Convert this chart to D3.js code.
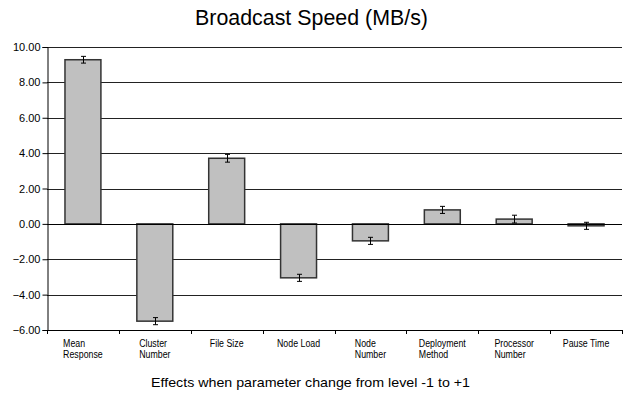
<!DOCTYPE html>
<html>
<head>
<meta charset="utf-8">
<script src="https://cdn.jsdelivr.net/npm/d3@7"></script>
<style>
  body { margin: 0; background: #fff; }
  text { font-family: "Liberation Sans", Arial, Helvetica, sans-serif; fill: #000; }
</style>
</head>
<body>
<div id="chart"></div>
<script>
// chart data
const categories = [
  ["Mean", "Response"],
  ["Cluster", "Number"],
  ["File Size"],
  ["Node Load"],
  ["Node", "Number"],
  ["Deployment", "Method"],
  ["Processor", "Number"],
  ["Pause Time"]
];
const effects = [9.28, -5.5, 3.71, -3.05, -0.96, 0.79, 0.27, -0.11];
const errors = [0.19, 0.2, 0.22, 0.2, 0.2, 0.2, 0.22, 0.2];
const yTicks = [-6, -4, -2, 0, 2, 4, 6, 8, 10];
const title = "Broadcast Speed (MB/s)";
const xTitle = "Effects when parameter change from level -1 to +1";

const W = 633, H = 394;
const margin = { top: 47, right: 11, bottom: 64, left: 47 };
const width = W - margin.left - margin.right;
const height = H - margin.top - margin.bottom;

const svg = d3.select("#chart")
  .append("svg")
  .attr("width", W)
  .attr("height", H);

// title
svg.append("text")
  .attr("x", 311.5)
  .attr("y", 25)
  .attr("text-anchor", "middle")
  .attr("font-size", 22.5)
  .attr("textLength", 233)
  .attr("lengthAdjust", "spacingAndGlyphs")
  .text(title);

const g = svg.append("g")
  .attr("transform", `translate(${margin.left},${margin.top})`);

const idx = d3.range(categories.length);

// bars sit in the middle half of each slot
const xScale = d3.scaleBand()
  .domain(idx)
  .range([0, width])
  .paddingInner(0.5)
  .paddingOuter(0.25);

const yScale = d3.scaleLinear()
  .domain([-6, 10])
  .range([height, 0]);

// gridlines
g.append("g")
  .selectAll("line")
  .data(yTicks.filter(d => d !== -6))
  .join("line")
  .attr("x1", 0)
  .attr("x2", width)
  .attr("y1", d => Math.round(yScale(d)) + 0.5)
  .attr("y2", d => Math.round(yScale(d)) + 0.5)
  .attr("stroke", "#222")
  .attr("stroke-width", 1);

// y axis
const yAxis = d3.axisLeft(yScale)
  .tickValues(yTicks)
  .tickFormat(d3.format(".2f"))
  .tickSize(5)
  .tickPadding(2);

const yG = g.append("g")
  .attr("transform", "translate(0.5,0)")
  .call(yAxis);
yG.select(".domain").attr("stroke", "#000");
yG.selectAll(".tick line").attr("stroke", "#000");
yG.selectAll(".tick text")
  .attr("font-size", 11)
  .attr("font-family", "Liberation Sans, Arial, sans-serif")
  .attr("fill", "#000");

// x axis line with ticks at slot boundaries
const step = xScale.step();
g.append("line")
  .attr("x1", 0)
  .attr("x2", width)
  .attr("y1", height + 0.5)
  .attr("y2", height + 0.5)
  .attr("stroke", "#000");

g.append("g")
  .selectAll("line")
  .data(d3.range(categories.length + 1))
  .join("line")
  .attr("x1", d => Math.round(xScale(0) - step * 0.25 + d * step) + 0.5)
  .attr("x2", d => Math.round(xScale(0) - step * 0.25 + d * step) + 0.5)
  .attr("y1", height)
  .attr("y2", height + 4)
  .attr("stroke", "#000");

// bars
g.append("g")
  .selectAll("rect")
  .data(idx)
  .join("rect")
  .attr("x", i => xScale(i))
  .attr("width", xScale.bandwidth())
  .attr("y", i => yScale(Math.max(0, effects[i])))
  .attr("height", i => Math.abs(yScale(effects[i]) - yScale(0)))
  .attr("fill", "#c0c0c0")
  .attr("stroke", "#333")
  .attr("stroke-width", 1.5);

// zero line over the bars
g.append("line")
  .attr("x1", 0)
  .attr("x2", width)
  .attr("y1", Math.round(yScale(0)) + 0.5)
  .attr("y2", Math.round(yScale(0)) + 0.5)
  .attr("stroke", "#000");

// error bars
const eb = g.append("g")
  .selectAll("g")
  .data(idx)
  .join("g")
  .attr("transform", i => `translate(${Math.round(xScale(i) + xScale.bandwidth() / 2) + 0.5},0)`);

eb.append("line")
  .attr("y1", i => yScale(effects[i] + errors[i]))
  .attr("y2", i => yScale(effects[i] - errors[i]))
  .attr("stroke", "#000");
eb.append("line")
  .attr("x1", -2.5).attr("x2", 2.5)
  .attr("y1", i => yScale(effects[i] + errors[i]))
  .attr("y2", i => yScale(effects[i] + errors[i]))
  .attr("stroke", "#000");
eb.append("line")
  .attr("x1", -2.5).attr("x2", 2.5)
  .attr("y1", i => yScale(effects[i] - errors[i]))
  .attr("y2", i => yScale(effects[i] - errors[i]))
  .attr("stroke", "#000");

// category labels: block centred in slot, lines left aligned, a bit condensed
const labels = g.append("g")
  .selectAll("text")
  .data(idx)
  .join("text")
  .attr("font-size", 10)
  .attr("y", height + 17);

labels.each(function (i) {
  const t = d3.select(this);
  categories[i].forEach((line, k) => {
    t.append("tspan")
      .attr("dy", k === 0 ? 0 : 11)
      .text(line);
  });
  let maxW = 0;
  t.selectAll("tspan").each(function () {
    const w = this.getComputedTextLength() * 0.88;
    d3.select(this)
      .attr("textLength", w)
      .attr("lengthAdjust", "spacingAndGlyphs");
    maxW = Math.max(maxW, w);
  });
  const cx = xScale(i) + xScale.bandwidth() / 2;
  t.selectAll("tspan").attr("x", cx - maxW / 2);
});

// x axis title
svg.append("text")
  .attr("x", 310.5)
  .attr("y", 387)
  .attr("text-anchor", "middle")
  .attr("font-size", 13.5)
  .attr("textLength", 319)
  .attr("lengthAdjust", "spacingAndGlyphs")
  .text(xTitle);
</script>
</body>
</html>
